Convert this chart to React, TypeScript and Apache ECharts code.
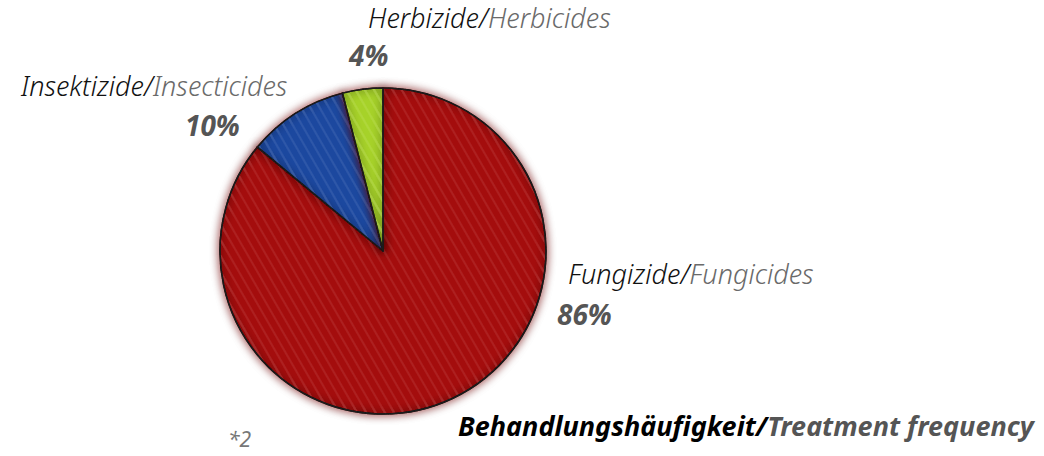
import React, { useEffect, useRef } from "react";
import * as echarts from "echarts";

const categoriesDe = ["Fungizide", "Insektizide", "Herbizide"];
const categoriesEn = ["Fungicides", "Insecticides", "Herbicides"];
const values = [86, 10, 4];
const colors = ["#a70a0a", "#1d48a2", "#a9d52b"];
const titleDe = "Behandlungshäufigkeit/";
const titleEn = "Treatment frequency";
const footnote = "*2";

// label anchor positions (left, top of name line) for each category
const labelPos = [
  { x: 568, y: 260, px: 557, py: 300 },
  { x: 21, y: 72, px: 185, py: 111 },
  { x: 368, y: 4, px: 349, py: 41 },
];

const FONT = "'Noto Sans', 'Open Sans', sans-serif";

export default function App() {
  const ref = useRef<HTMLDivElement>(null);
  useEffect(() => {
    const chart = echarts.init(ref.current!, undefined, { renderer: "svg" });
    const graphics: any[] = [];
    categoriesDe.forEach((de, i) => {
      const p = labelPos[i];
      graphics.push({
        type: "text",
        left: p.x,
        top: p.y,
        style: {
          text: `{a|${de}/}{b|${categoriesEn[i]}}`,
          rich: {
            a: { fontFamily: FONT, fontStyle: "italic", fontSize: 27, lineHeight: 28, fill: "#111", fontWeight: 300 },
            b: { fontFamily: FONT, fontStyle: "italic", fontSize: 27, lineHeight: 28, fill: "#6a6a6a", fontWeight: 300 },
          },
        },
      });
      graphics.push({
        type: "text",
        left: p.px,
        top: p.py,
        style: {
          text: `${values[i]}%`,
          fontFamily: FONT,
          fontStyle: "italic",
          fontWeight: "bold",
          fontSize: 28,
          fill: "#555",
        },
      });
    });
    graphics.push({
      type: "text",
      left: 458,
      top: 412,
      style: {
        text: `{a|${titleDe}}{b|${titleEn}}`,
        rich: {
          a: { fontFamily: FONT, fontStyle: "italic", fontWeight: "bold", fontSize: 27, fill: "#000" },
          b: { fontFamily: FONT, fontStyle: "italic", fontWeight: "bold", fontSize: 27, fill: "#555" },
        },
      },
    });
    graphics.push({
      type: "text",
      left: 228,
      top: 428,
      style: {
        text: footnote,
        fontFamily: FONT,
        fontStyle: "italic",
        fontSize: 21,
        fill: "#777",
      },
    });

    chart.setOption({
      animation: false,
      backgroundColor: "#ffffff",
      graphic: graphics,
      series: [
        {
          type: "pie",
          center: [383, 251],
          radius: [0, 163],
          startAngle: 90,
          clockwise: true,
          label: { show: false },
          labelLine: { show: false },
          silent: true,
          itemStyle: {
            borderColor: "#1a1a1a",
            borderWidth: 1.5,
            shadowBlur: 8,
            shadowColor: "rgba(190,0,0,0.6)",
            decal: {
              symbol: "rect",
              color: "rgba(255,255,255,0.07)",
              dashArrayX: [1, 0],
              dashArrayY: [2, 6],
              rotation: Math.PI / 3,
            },
          },
          data: values.map((v, i) => ({
            name: categoriesEn[i],
            value: v,
            itemStyle: { color: colors[i] },
          })),
        },
      ],
    });
    return () => chart.dispose();
  }, []);
  return (
    <div
      ref={ref}
      style={{ position: "fixed", left: 0, top: 0, width: 1044, height: 456 }}
    />
  );
}
